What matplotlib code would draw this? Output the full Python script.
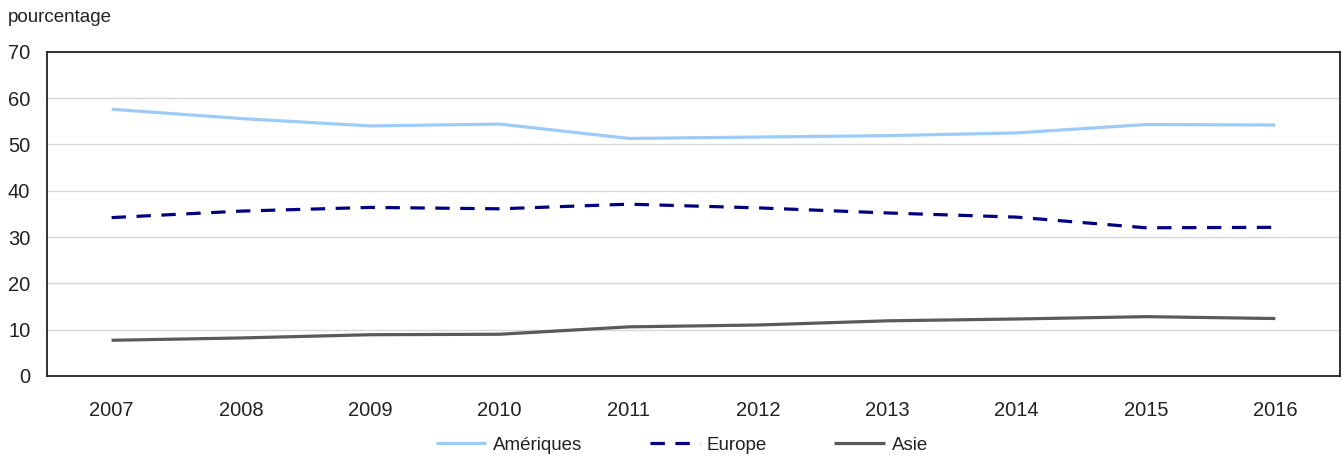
import matplotlib.pyplot as plt
import numpy as np

plt.rcParams["font.family"] = ["Liberation Sans Narrow", "Liberation Sans", "DejaVu Sans"]

# Part des régions, en pourcentage
annees = ["2007", "2008", "2009", "2010", "2011", "2012", "2013", "2014", "2015", "2016"]
ameriques = [57.6, 55.6, 54.0, 54.4, 51.3, 51.6, 51.9, 52.5, 54.3, 54.2]
europe = [34.2, 35.6, 36.4, 36.1, 37.1, 36.3, 35.2, 34.3, 32.0, 32.1]
asie = [7.7, 8.2, 8.9, 9.0, 10.6, 11.0, 11.9, 12.3, 12.8, 12.4]

fig = plt.figure(figsize=(13.42, 4.59), dpi=100)
ax = fig.add_axes([0.035, 0.181, 0.9635, 0.706])

x = np.arange(len(annees))
ax.plot(x, ameriques, color="#9ccbf8", lw=2.3, label="Amériques", solid_capstyle="butt")
ax.plot(x, europe, color="#000080", lw=2.3, dashes=(4.5, 3.3), label="Europe")
ax.plot(x, asie, color="#5a5a5a", lw=2.3, label="Asie", solid_capstyle="butt")

ax.set_xlim(-0.5, len(annees) - 0.5)
ax.set_ylim(0, 70)
ax.set_yticks(range(0, 71, 10))
ax.set_xticks(x)
ax.set_xticklabels(annees)
ax.tick_params(axis="both", length=0, labelsize=14.5, colors="#222222")
ax.tick_params(axis="x", pad=18)
ax.tick_params(axis="y", pad=12)
ax.grid(axis="y", color="#d9d9d9", lw=1)
ax.set_axisbelow(True)
for s in ax.spines.values():
    s.set_color("#222222")
    s.set_linewidth(1.3)

fig.text(0.006, 0.962, "pourcentage", fontsize=13.5, color="#222222", va="center")

leg = fig.legend(loc="center", bbox_to_anchor=(0.508, 0.03), ncol=3, frameon=False,
                 fontsize=13.5, handlelength=2.7, handletextpad=0.35, columnspacing=3.6)
for t in leg.get_texts():
    t.set_color("#222222")

fig.savefig("out.png", dpi=100)
